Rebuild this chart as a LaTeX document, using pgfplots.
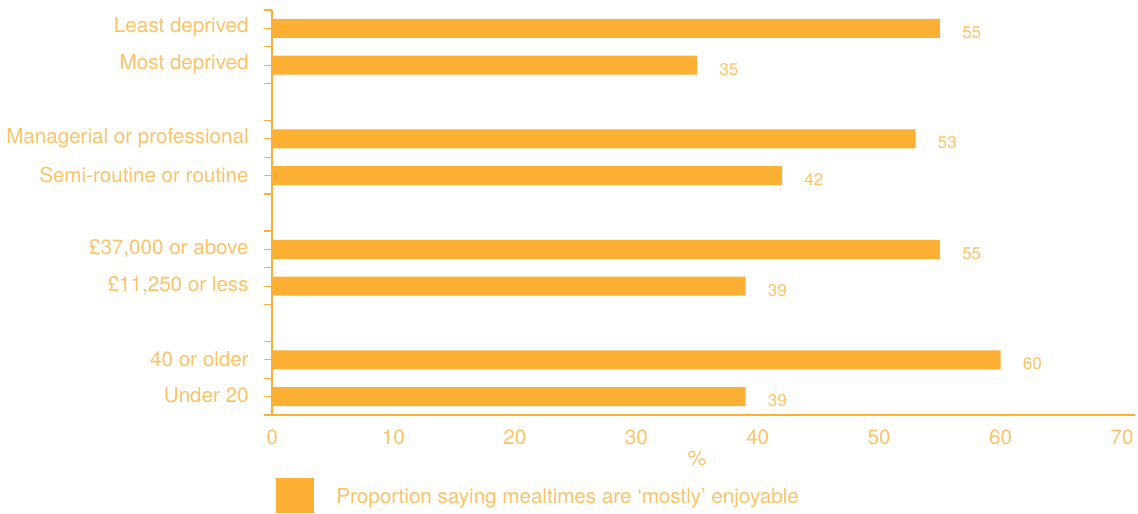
\documentclass[border=0pt]{standalone}
\usepackage{fontspec}
\setmainfont{TeX Gyre Heros}
\usepackage{pgfplots}
\pgfplotsset{compat=1.18}
\definecolor{barc}{RGB}{251,176,52}
\definecolor{txtc}{RGB}{252,194,100}
\begin{document}
\begin{tikzpicture}
\path[use as bounding box] (-136pt,-49pt) rectangle (433pt,207.5pt);
\begin{axis}[
  at={(0,0)}, anchor=south west,
  scale only axis,
  width=431.5pt, height=202.5pt,
  xmin=0, xmax=71.07,
  ymin=-0.5, ymax=10.5,
  axis lines*=left,
  axis line style={barc, line width=1pt},
  xbar, bar width=9.5pt,
  xtick={0,10,...,70},
  xtick style={draw=none},
  xticklabel style={anchor=north, inner sep=0pt, yshift=-3pt, font=\fontsize{10.3}{12}\selectfont, text=txtc},
  ytick={-0.5,0.5,1.5,2.5,3.5,4.5,5.5,6.5,7.5,8.5,9.5,10.5},
  yticklabels={},
  ytick style={draw=barc, line width=0.6pt},
  major tick length=4pt,
  tick align=outside,
  extra y ticks={0,1,3,4,6,7,9,10},
  extra y tick labels={{Under 20},{40 or older},{£11,250 or less},{£37,000 or above},{Semi-routine or routine},{Managerial or professional},{Most deprived},{Least deprived}},
  extra y tick style={tick style={draw=none}, yticklabel style={anchor=east, inner sep=0pt, xshift=-7.5pt, yshift=0.5pt, font=\fontsize{10.3}{12}\selectfont, text=txtc}},
  /pgf/number format/assume math mode=true,
  xlabel={\%},
  xlabel style={at={(axis description cs:0.4925,0)}, anchor=center, yshift=-21.5pt, font=\fontsize{10.5}{12}\selectfont, text=txtc},
  nodes near coords,
  nodes near coords style={anchor=west, inner sep=0pt, xshift=11pt, yshift=-2pt, font=\fontsize{8.5}{10}\selectfont, text=txtc},
  legend style={at={(axis description cs:0,0)}, anchor=west, xshift=2pt, yshift=-40pt, draw=none, fill=none, inner sep=0pt, font=\fontsize{10.3}{12}\selectfont, text=txtc},
  legend cell align=left,
  clip=false,
]
\addplot[fill=barc, draw=none,
  legend image code/.code={\fill[barc] (0pt,-7.5pt) rectangle (19pt,10pt); \path[draw=none, fill=none] (0pt,0pt) rectangle (28pt,0.1pt);}]
  coordinates {(39,0) (60,1) (39,3) (55,4) (42,6) (53,7) (35,9) (55,10)};
\addlegendentry{Proportion saying mealtimes are ‘mostly’ enjoyable}
\end{axis}
\end{tikzpicture}
\end{document}
